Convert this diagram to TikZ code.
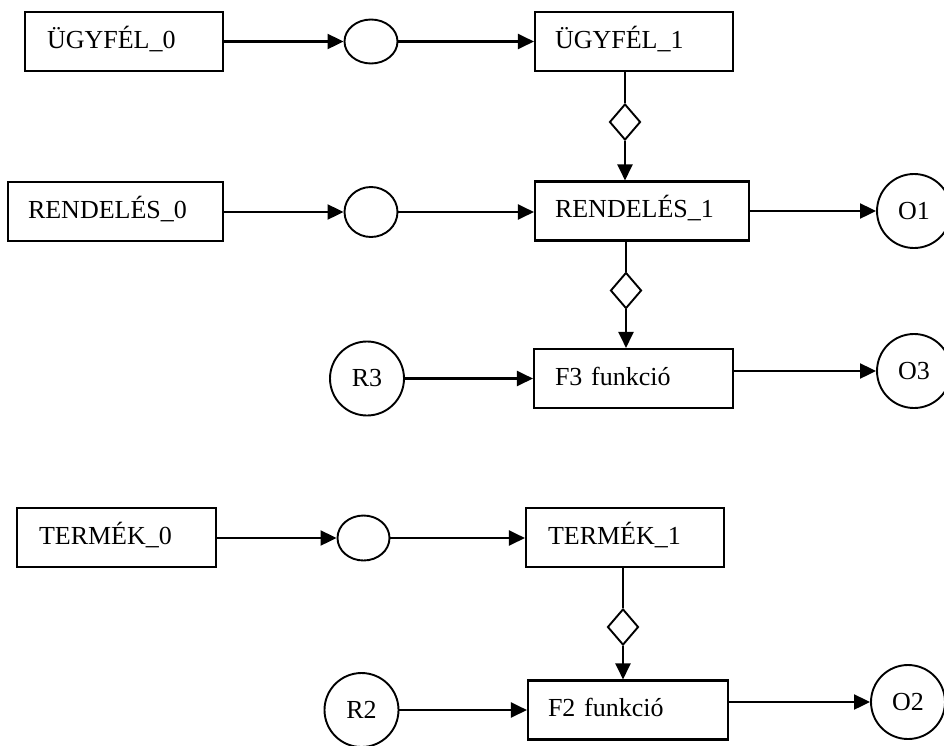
\documentclass[tikz,border=0pt]{standalone}
\usepackage{fontspec}
\setmainfont{Liberation Serif}
\usetikzlibrary{arrows.meta,shapes.geometric}
\tikzset{
  blk/.style={draw, line width=2.1pt, rectangle, minimum height=59pt, align=left,
    text height=18pt, text depth=5pt, font=\fontsize{26}{30}\selectfont},
  oval/.style={draw, line width=1.9pt, ellipse, inner sep=0pt},
  rnd/.style={draw, line width=1.9pt, circle, inner sep=0pt, minimum size=74pt,
    font=\fontsize{26}{30}\selectfont},
  dia/.style={draw, line width=1.9pt, diamond, inner sep=0pt, minimum width=31pt, minimum height=36pt},
  arr/.style={line width=2.1pt, -{Triangle[length=16pt,width=15pt]}},
  ln/.style={line width=2.1pt}
}
\begin{document}
\begin{tikzpicture}[x=1pt,y=-1pt]
\useasboundingbox (0,0) rectangle (944,745);
% row 1
\node[blk, text width=154pt, inner xsep=22pt] (U0) at (124,41.5) {ÜGYFÉL\_0};
\node[oval, minimum width=53pt, minimum height=44pt] (E1) at (371,41.5) {};
\node[blk, text width=158pt, inner xsep=20pt] (U1) at (634,41.5) {ÜGYFÉL\_1};
\node[dia] (D1) at (625,122) {};
% row 2
\node[blk, text width=175pt, inner xsep=20pt] (R0) at (115.5,211.5) {RENDELÉS\_0};
\node[oval, minimum width=53pt, minimum height=50pt] (E2) at (371,212) {};
\node[blk, text width=174pt, inner xsep=20pt] (R1) at (642,211) {RENDELÉS\_1};
\node[rnd] (O1) at (914,211) {O1};
\node[dia] (D2) at (626,290.5) {};
% row 3
\node[rnd] (R3) at (367,378.5) {R3};
\node[blk, text width=157pt, inner xsep=21pt] (F3) at (633.5,378.5) {F3 funkció};
\node[rnd] (O3) at (914,371) {O3};
% row 4
\node[blk, text width=155pt, inner xsep=22pt] (T0) at (116.5,537.5) {TERMÉK\_0};
\node[oval, minimum width=52pt, minimum height=45pt] (E3) at (363.5,538) {};
\node[blk, text width=154pt, inner xsep=22pt] (T1) at (625,537.5) {TERMÉK\_1};
\node[dia] (D3) at (623,627) {};
% row 5
\node[rnd] (R2) at (361.5,710) {R2};
\node[blk, text width=160pt, inner xsep=20pt] (F2) at (628,710) {F2 funkció};
\node[rnd] (O2) at (908,702) {O2};
% connectors
\draw[arr] (U0) -- (E1);
\draw[arr] (E1) -- (U1);
\draw[ln] (U1.south -| D1.north) -- (D1.north);
\draw[arr] (D1.south) -- (D1.south |- R1.north);
\draw[arr] (R0.east |- E2) -- (E2);
\draw[arr] (E2) -- (E2 -| R1.west);
\draw[arr] (R1.east) -- (O1);
\draw[ln] (R1.south -| D2.north) -- (D2.north);
\draw[arr] (D2.south) -- (D2.south |- F3.north);
\draw[arr] (R3) -- (F3);
\draw[arr] (F3.east |- O3) -- (O3);
\draw[arr] (T0.east |- E3) -- (E3);
\draw[arr] (E3) -- (E3 -| T1.west);
\draw[ln] (T1.south -| D3.north) -- (D3.north);
\draw[arr] (D3.south) -- (D3.south |- F2.north);
\draw[arr] (R2) -- (F2);
\draw[arr] (F2.east |- O2) -- (O2);
\end{tikzpicture}
\end{document}
